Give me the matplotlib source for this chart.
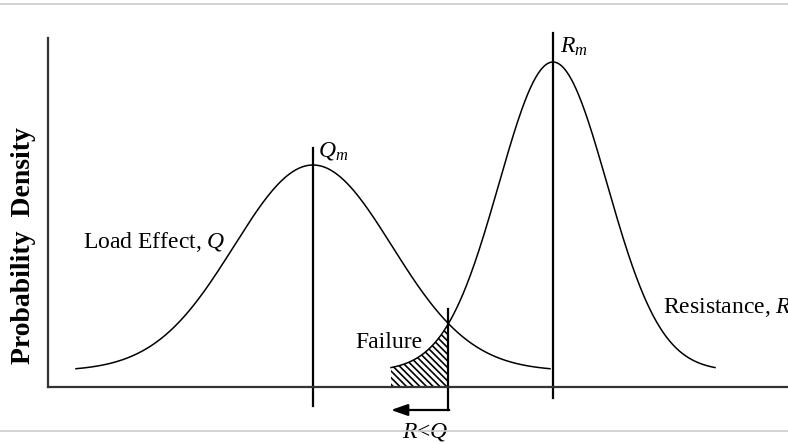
import numpy as np
import matplotlib.pyplot as plt
from matplotlib.lines import Line2D

# ---------------- data (diagram units, x from y-axis, y from x-axis) ----------------
q_mean, q_sd, q_peak = 265, 79, 222     # load effect Q
r_mean, r_sd, r_peak = 505, 54, 325     # resistance R
tail_height = 16                        # curves sit slightly above the axis
n_sd = 3.0                              # curves drawn over +/- 3 sigma

labels = {
    "q": "Load Effect, $Q$",
    "r": "Resistance, $R$",
    "qm": "$Q_m$",
    "rm": "$R_m$",
    "fail": "Failure",
    "cond": "$R$<$Q$",
    "ylab": "Probability  Density",
}


def bell(x, mean, sd, peak):
    return tail_height + (peak - tail_height) * np.exp(-0.5 * ((x - mean) / sd) ** 2)


plt.rcParams['font.family'] = ['Liberation Serif', 'DejaVu Serif']
plt.rcParams['mathtext.fontset'] = 'custom'
plt.rcParams['mathtext.rm'] = 'Liberation Serif'
plt.rcParams['mathtext.it'] = 'Liberation Serif:italic'
plt.rcParams['hatch.linewidth'] = 1.2

W, H = 788, 444
fig = plt.figure(figsize=(W / 100, H / 100), dpi=100)
ax = fig.add_axes([48 / W, (H - 387) / H, (W - 48) / W, 349 / H])
ax.set_xlim(0, 740)
ax.set_ylim(0, 349)

xq = np.linspace(q_mean - n_sd * q_sd, q_mean + n_sd * q_sd, 400)
xr = np.linspace(r_mean - n_sd * r_sd, r_mean + n_sd * r_sd, 400)
ax.plot(xq, bell(xq, q_mean, q_sd, q_peak), color='black', lw=1.1)
ax.plot(xr, bell(xr, r_mean, r_sd, r_peak), color='black', lw=1.1)

# crossing point of the two curves
xs = np.linspace(q_mean, r_mean, 4000)
diff = bell(xs, q_mean, q_sd, q_peak) - bell(xs, r_mean, r_sd, r_peak)
x_cross = xs[np.argmin(np.abs(diff))]

# failure zone under R left tail
xf = np.linspace(r_mean - n_sd * r_sd, x_cross, 200)
ax.fill_between(xf, 0, bell(xf, r_mean, r_sd, r_peak), facecolor='none',
                edgecolor='black', hatch='\\' * 5, linewidth=0)

# mean lines and failure boundary
ax.plot([q_mean, q_mean], [-19, 239], color='black', lw=1.6, clip_on=False)
ax.plot([r_mean, r_mean], [-11, 354], color='black', lw=1.6, clip_on=False)
ax.plot([x_cross, x_cross], [78, -23], color='black', lw=1.6, clip_on=False)
ax.annotate('', xy=(r_mean - n_sd * r_sd, -23), xytext=(x_cross + 0.8, -23),
            arrowprops=dict(arrowstyle='-|>,head_length=1.0,head_width=0.35',
                            color='black', lw=1.6, shrinkA=0, shrinkB=0),
            annotation_clip=False)

fs = 17
ax.text(35, 139, labels["q"], fontsize=fs, va='baseline')
ax.text(615, 74, labels["r"], fontsize=fs, va='baseline', clip_on=False)
ax.text(q_mean + 5, 230, labels["qm"], fontsize=fs, va='baseline')
ax.text(r_mean + 7, 334, labels["rm"], fontsize=fs, va='baseline', clip_on=False)
ax.text(307, 39, labels["fail"], fontsize=fs, va='baseline')
ax.text(354, -50, labels["cond"], fontsize=fs, va='baseline', clip_on=False)

fig.text(24 / W, 1 - 246 / H, labels["ylab"], rotation=90, fontsize=20,
         fontweight='bold', ha='center', va='center')

for side in ['top', 'right']:
    ax.spines[side].set_visible(False)
for side in ['left', 'bottom']:
    ax.spines[side].set_color('#333333')
    ax.spines[side].set_linewidth(1.6)
ax.set_xticks([])
ax.set_yticks([])
ax.patch.set_alpha(0)

# thin page rules above and below the figure
for yy in [4, 431]:
    fig.add_artist(Line2D([0, 1], [1 - yy / H] * 2, color='#cccccc', lw=1.2))

fig.savefig('out.png', dpi=100)
